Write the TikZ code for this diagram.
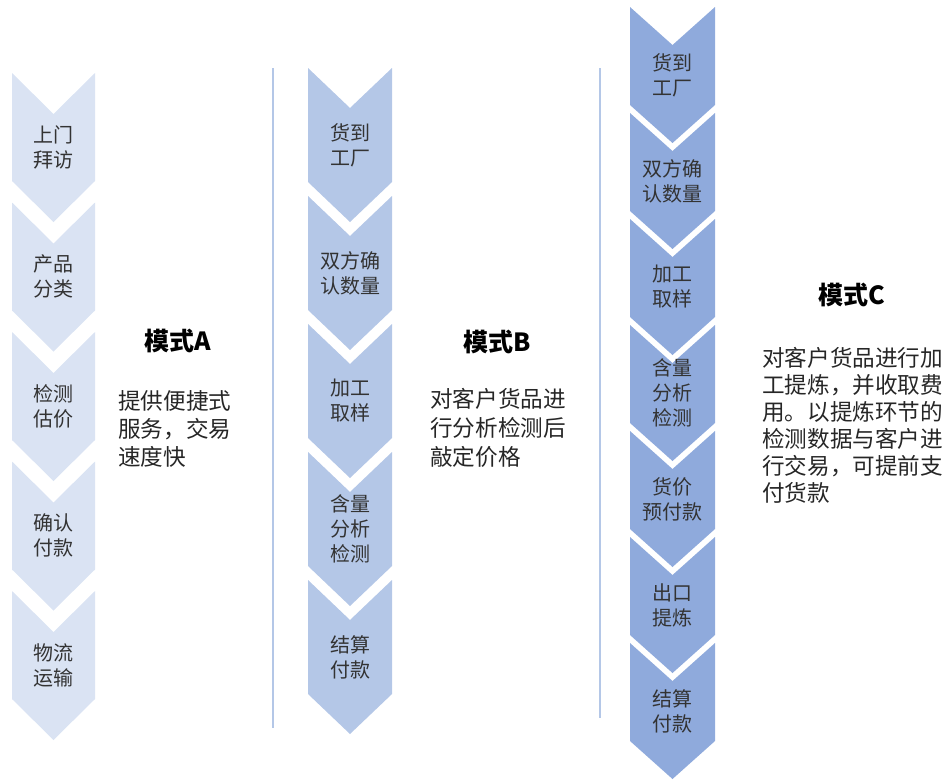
\documentclass[tikz,border=0pt]{standalone}
\usepackage{fontspec}
\newfontfamily\cjk{Noto Sans CJK SC}
\definecolor{cA}{HTML}{DAE3F3}
\definecolor{cB}{HTML}{B4C7E7}
\definecolor{cC}{HTML}{8FAADC}
\definecolor{sepc}{HTML}{B4C7E7}
\definecolor{steptxt}{HTML}{333333}
\definecolor{bodytxt}{HTML}{262626}
\newcommand\mychev[6]{% cx, halfwidth, top, height, depth, colour
  \fill[#6] ({#1-#2},{#3}) -- ({#1},{#3+#5}) -- ({#1+#2},{#3}) -- ({#1+#2},{#3+#4})
    -- ({#1},{#3+#4+#5}) -- ({#1-#2},{#3+#4}) -- cycle;}
\tikzset{
  steptext/.style={font=\cjk\fontsize{20}{25}\selectfont, text=steptxt, align=center, inner sep=0pt},
  titletext/.style={font=\cjk\bfseries\fontsize{25}{30}\selectfont, text=black, inner sep=0pt},
  bodyline/.style={font=\cjk\fontsize{22.6}{27}\selectfont, text=bodytxt, anchor=west, inner sep=0pt},
  seprule/.style={draw=sepc, line width=1.5pt}
}
\begin{document}
\begin{tikzpicture}[x=1pt,y=-1pt]
\useasboundingbox (0,0) rectangle (947,780);
% separators
\draw[seprule] (273,68) -- (273,728);
\draw[seprule] (600,68) -- (600,718);
% column A
\foreach \i/\t in {0/{上门\\拜访},1/{产品\\分类},2/{检测\\估价},3/{确认\\付款},4/{物流\\运输}}{
  \mychev{53.5}{41.5}{73+\i*129.5}{108}{41}{cA}
  \node[steptext] (a\i) at (53.5,{147+\i*129.5}) {\t};
}
% column B
\foreach \i/\t in {0/{货到\\工厂},1/{双方确\\认数量},2/{加工\\取样},3/{含量\\分析\\检测},4/{结算\\付款}}{
  \mychev{350}{42}{68+\i*128}{114}{40}{cB}
  \node[steptext] (b\i) at (350,{145+\i*128}) {\t};
}
% column C
\foreach \i/\t in {0/{货到\\工厂},1/{双方确\\认数量},2/{加工\\取样},3/{含量\\分析\\检测},4/{货价\\预付款},5/{出口\\提炼},6/{结算\\付款}}{
  \mychev{672.5}{42.5}{7+\i*106}{98}{38}{cC}
  \node[steptext] (c\i) at (672.5,{75+\i*106}) {\t};
}
% titles
\node[titletext] (tA) at (178,341) {模式A};
\node[titletext] (tB) at (497,342) {模式B};
\node[titletext] (tC) at (852,295) {模式C};
% descriptions
\node[bodyline] (dA1) at (118,401) {提供便捷式};
\node[bodyline] (dA2) at (118,429) {服务，交易};
\node[bodyline] (dA3) at (118,457) {速度快};
\node[bodyline] (dB1) at (430,399) {对客户货品进};
\node[bodyline] (dB2) at (430,428) {行分析检测后};
\node[bodyline] (dB3) at (430,457) {敲定价格};
\node[bodyline] (dC1) at (762,358) {对客户货品进行加};
\node[bodyline] (dC2) at (762,385) {工提炼，并收取费};
\node[bodyline] (dC3) at (762,412) {用。以提炼环节的};
\node[bodyline] (dC4) at (762,439) {检测数据与客户进};
\node[bodyline] (dC5) at (762,466) {行交易，可提前支};
\node[bodyline] (dC6) at (762,493) {付货款};
\end{tikzpicture}
\end{document}
